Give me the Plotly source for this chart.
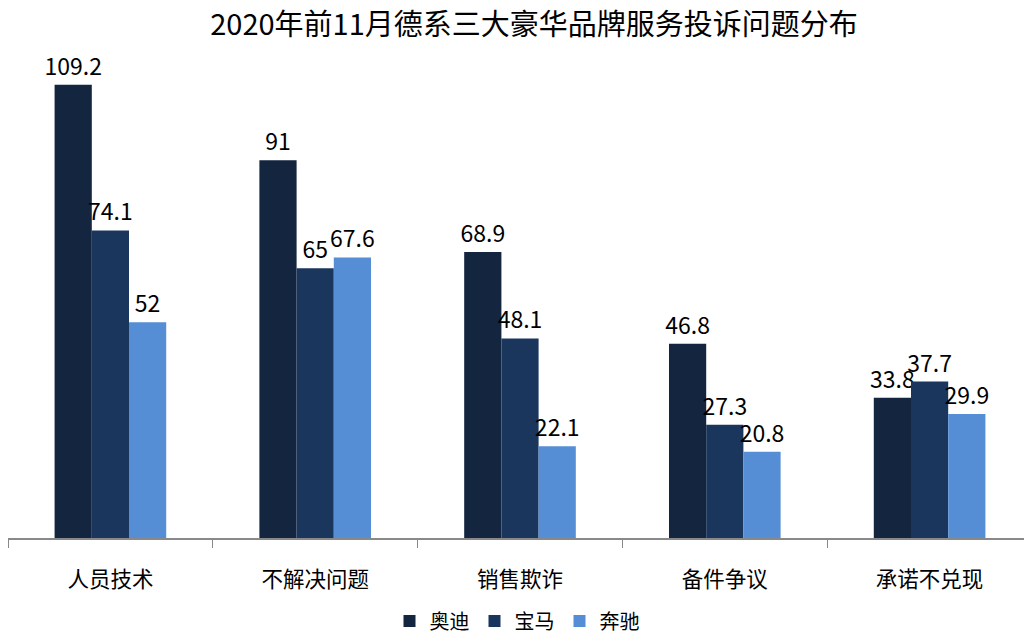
import plotly.graph_objects as go

categories = ["人员技术", "不解决问题", "销售欺诈", "备件争议", "承诺不兑现"]
audi = [109.2, 91, 68.9, 46.8, 33.8]
bmw = [74.1, 65, 48.1, 27.3, 37.7]
benz = [52, 67.6, 22.1, 20.8, 29.9]
series_names = ["奥迪", "宝马", "奔驰"]
colors = ["#13253F", "#1B365D", "#558ED5"]

FONT = "Noto Sans CJK SC"
W, H = 1024, 633  # page body has an 8px margin

fig = go.Figure()
for name, vals, col in zip(series_names, [audi, bmw, benz], colors):
    fig.add_trace(go.Bar(
        x=categories, y=vals, name=name,
        marker=dict(color=col, line=dict(width=0)),
        text=[f"{v:g}" for v in vals],
        textposition="outside",
        constraintext="none",
        textfont=dict(family=FONT, size=23, color="#000000"),
        cliponaxis=False,
    ))

fig.update_layout(
    width=W, height=H,
    margin=dict(l=0, r=0, t=32, b=103, autoexpand=False),
    paper_bgcolor="white", plot_bgcolor="white",
    barmode="group", bargap=0.455, bargroupgap=0,
    title=dict(text="2020年前11月德系三大豪华品牌服务投诉问题分布",
               font=dict(family=FONT, size=29, color="#000000"),
               x=526 / W, xanchor="center", xref="container",
               y=1 - 17 / H, yanchor="middle", yref="container"),
    legend=dict(orientation="h", x=509 / W, xanchor="center",
                y=1 - 613 / H, yanchor="middle", yref="container",
                font=dict(family=FONT, size=20, color="#000000"),
                itemwidth=30, traceorder="normal"),
    font=dict(family=FONT),
    showlegend=True,
)
fig.update_xaxes(
    showline=True, linecolor="#898989", linewidth=1.5,
    ticks="outside", tickson="boundaries", ticklen=8, tickcolor="#898989",
    tickfont=dict(family=FONT, size=21.5, color="#000000"),
    ticklabelstandoff=21, showgrid=False,
)
fig.update_yaxes(range=[0, 120], visible=False, showgrid=False, zeroline=False)

fig.write_html("out.html")
